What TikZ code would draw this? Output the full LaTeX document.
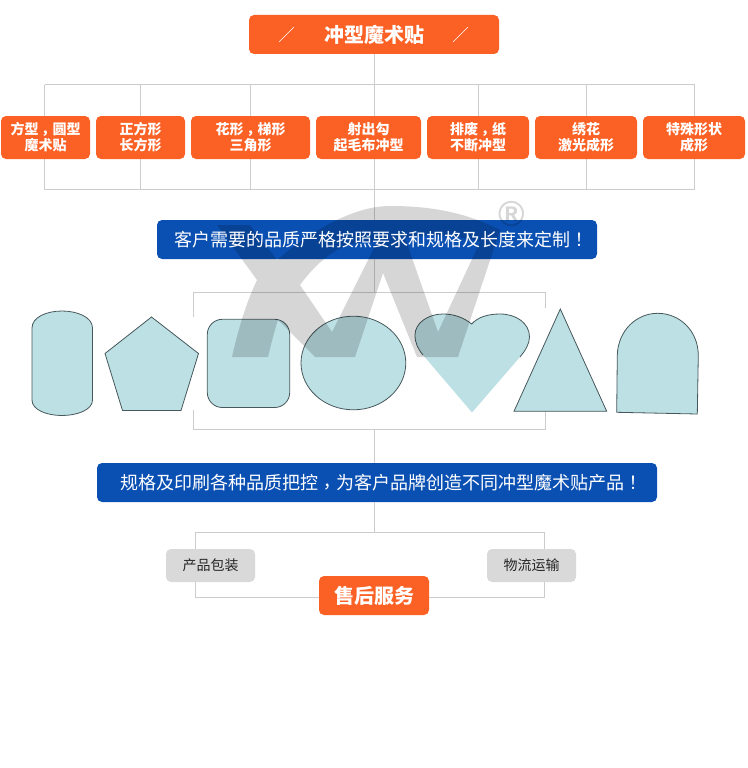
\documentclass[tikz,border=0pt]{standalone}
\usepackage{fontspec}
\usepackage{xcolor}
\setmainfont{Noto Sans CJK SC}
\newfontfamily\markfont{Liberation Sans}
\newfontfamily\puncfont{Noto Sans CJK TC}
\newcommand{\ccomma}{\raisebox{-.25em}[0pt][0pt]{\puncfont ，}}
\newcommand{\cbang}{{\puncfont ！}}
\usetikzlibrary{calc,positioning}
\definecolor{tagorange}{HTML}{FB6024}
\definecolor{bandblue}{HTML}{0A4FB2}
\definecolor{tiegray}{HTML}{D9D9D9}
\definecolor{gridgray}{HTML}{CCCCCC}
\definecolor{shapeblue}{HTML}{BDE0E4}
\definecolor{shapeedge}{HTML}{46585C}
\tikzset{
    gridline/.style={draw=gridgray,line width=1pt},
    headbox/.style={fill=tagorange,rounded corners=5pt,inner sep=0pt,text=white,font=\fontsize{20}{24}\selectfont\bfseries},
    tagbox/.style={fill=tagorange,rounded corners=5pt,inner sep=0pt,minimum height=43pt,text=white,align=center,font=\fontsize{14}{16}\selectfont\bfseries},
    bandbox/.style={fill=bandblue,rounded corners=5pt,inner sep=0pt,minimum height=39pt},
    bandtext/.style={inner sep=0pt,text=white,font=\fontsize{18}{22}\selectfont},
    tiebox/.style={fill=tiegray,rounded corners=5pt,inner sep=0pt,minimum width=89pt,minimum height=33pt,text=black!85,font=\fontsize{14}{16}\selectfont},
    cutshape/.style={fill=shapeblue,draw=shapeedge,line width=.8pt},
    slashline/.style={draw=white,line width=.6pt},
    watermark/.style={fill=black,fill opacity=.16,even odd rule}
}
\begin{document}
\begin{tikzpicture}[x=1pt,y=-1pt]
        \useasboundingbox (0,0) rectangle (747,768);
        \foreach \x/\name in {44.5/a,140.5/b,250.5/c,374.5/d,478.5/e,586.5/f,694.5/g} {
            \coordinate (top\name) at (\x,84.5);
            \coordinate (bot\name) at (\x,189.5);
            \draw[gridline] (top\name) -- (bot\name);
        }
        \draw[gridline] (topa) -- (topg) (bota) -- (botg);
        \node[headbox,minimum width=250pt,minimum height=39pt] (title) at (374,34.5) {冲型魔术贴};
        \draw[slashline] ($(title.center)+(-95,7.5)$) -- ($(title.center)+(-80,-7.5)$);
        \draw[slashline] ($(title.center)+(79,7.5)$) -- ($(title.center)+(94,-7.5)$);
        \node[tagbox,minimum width=89pt] (taground) at (45.5,137.5) {方型\ccomma 圆型\\魔术贴};
        \node[tagbox,minimum width=89pt] (tagsquare) at (140.5,137.5) {正方形\\长方形};
        \node[tagbox,minimum width=119pt] (tagflower) at (250.5,137.5) {花形\ccomma 梯形\\三角形};
        \node[tagbox,minimum width=105pt] (taghook) at (368.5,137.5) {射出勾\\起毛布冲型};
        \node[tagbox,minimum width=102pt] (tagwaste) at (478,137.5) {排废\ccomma 纸\\不断冲型};
        \node[tagbox,minimum width=102pt] (taglaser) at (586,137.5) {绣花\\激光成形};
        \node[tagbox,minimum width=102pt] (tagspecial) at (694,137.5) {特殊形状\\成形};
        \node[bandbox,minimum width=440pt] (needband) at (377,239.5) {};
        \node[bandbox,minimum width=560pt] (printband) at (377,482.5) {};
        \draw[gridline] (title.south -| topd) -- (topd);
        \draw[gridline] (botd) -- (needband.north -| topd);
        \coordinate (shapenw) at (193.5,292.5);
        \coordinate (shapene) at (545.5,292.5);
        \coordinate (shapesw) at (193.5,429.5);
        \coordinate (shapese) at (545.5,429.5);
        \draw[gridline] (needband.south -| topd) -- (shapenw -| topd);
        \draw[gridline] (shapesw -| topd) -- (printband.north -| topd);
        \draw[gridline] (193.5,317) -- (shapenw) -- (shapene) -- (545.5,308);
        \draw[gridline] (193.5,410) -- (shapesw) -- (shapese) -- (545.5,411);
        \draw[cutshape] (32,328) .. controls (32,317) and (47,311) .. (62,311) .. controls (77,311) and (92.5,317) .. (92.5,328) -- (92.5,400) .. controls (92.5,410) and (77,415.5) .. (62,415.5) .. controls (47,415.5) and (32,410) .. (32,400) -- cycle;
        \draw[cutshape] (151.5,317) -- (198.5,353.5) -- (181,410.5) -- (122.5,410.5) -- (105,353.5) -- cycle;
        \draw[cutshape,rounded corners=15pt] (207.3,319.3) rectangle (289.7,407.5);
        \draw[cutshape] (353.4,363) ellipse (52.4 and 46.8);
        \fill[shapeblue] (471.7,324) .. controls (478,317) and (488,314) .. (500,314) .. controls (516,314) and (529.5,323) .. (529.5,337) .. controls (529.5,344) and (525,351) .. (520,357) -- (472,412.5) -- (423,355) .. controls (418,349) and (415,343) .. (415,335) .. controls (415,323) and (428,314) .. (443,314) .. controls (453,314) and (463,317) .. (471.7,324) -- cycle;
        \draw[shapeedge,line width=.8pt] (520,357) .. controls (525,351) and (529.5,344) .. (529.5,337) .. controls (529.5,323) and (516,314) .. (500,314) .. controls (488,314) and (478,317) .. (471.7,324) .. controls (463,317) and (453,314) .. (443,314) .. controls (428,314) and (415,323) .. (415,335) .. controls (415,343) and (418,349) .. (423,355);
        \draw[cutshape] (560.3,309) -- (606.7,411.3) -- (514,411.3) -- cycle;
        \draw[cutshape] (616.7,412.3) -- (617.3,355) .. controls (618,331) and (636,313.3) .. (657.7,313.3) .. controls (680,313.3) and (698,331) .. (698.3,355) -- (697.3,414) -- cycle;
        \coordinate (tienw) at (195,532.5);
        \coordinate (tiene) at (544.5,532.5);
        \coordinate (tiesw) at (195,597.5);
        \coordinate (tiese) at (544.5,597.5);
        \draw[gridline] (printband.south -| topd) -- (tienw -| topd);
        \draw[gridline] (tiesw) -- (tienw) -- (tiene) -- (tiese) -- cycle;
        \node[tiebox] (packbox) at (210.5,565.5) {产品包装};
        \node[tiebox] (shipbox) at (531.5,565.5) {物流运输};
        \node[headbox,minimum width=110pt,minimum height=39pt] (servicebox) at (374,595.5) {售后服务};
        \fill[watermark] (232,357) -- (268,357) .. controls (271,345) and (274,332) .. (278,320) -- (315,357) -- (355,357) -- (383,273) -- (417,357) -- (458,357) -- (500,230) .. controls (465,212) and (430,206) .. (390,206) .. controls (350,206) and (305,236) .. (277,260) -- (250,225) -- (217,225) -- (257,280) .. controls (246,303) and (238,330) .. (232,357) -- cycle
            (300,285) -- (332,332) -- (377,242) .. controls (345,238) and (320,258) .. (300,285) -- cycle
            (438,332) -- (405,238) .. controls (428,233) and (455,235) .. (480,242) -- cycle;
        \node[text=black,text opacity=.16,font=\markfont\fontsize{36}{36}\selectfont\bfseries,inner sep=0pt] (regmark) at (512,214) {®};
        \node[bandtext] (needtext) at ([xshift=4pt]needband.center) {客户需要的品质严格按照要求和规格及长度来定制\cbang};
        \node[bandtext] (printtext) at ([xshift=4pt]printband.center) {规格及印刷各种品质把控\ccomma 为客户品牌创造不同冲型魔术贴产品\cbang};
    \end{tikzpicture}
\end{document}
